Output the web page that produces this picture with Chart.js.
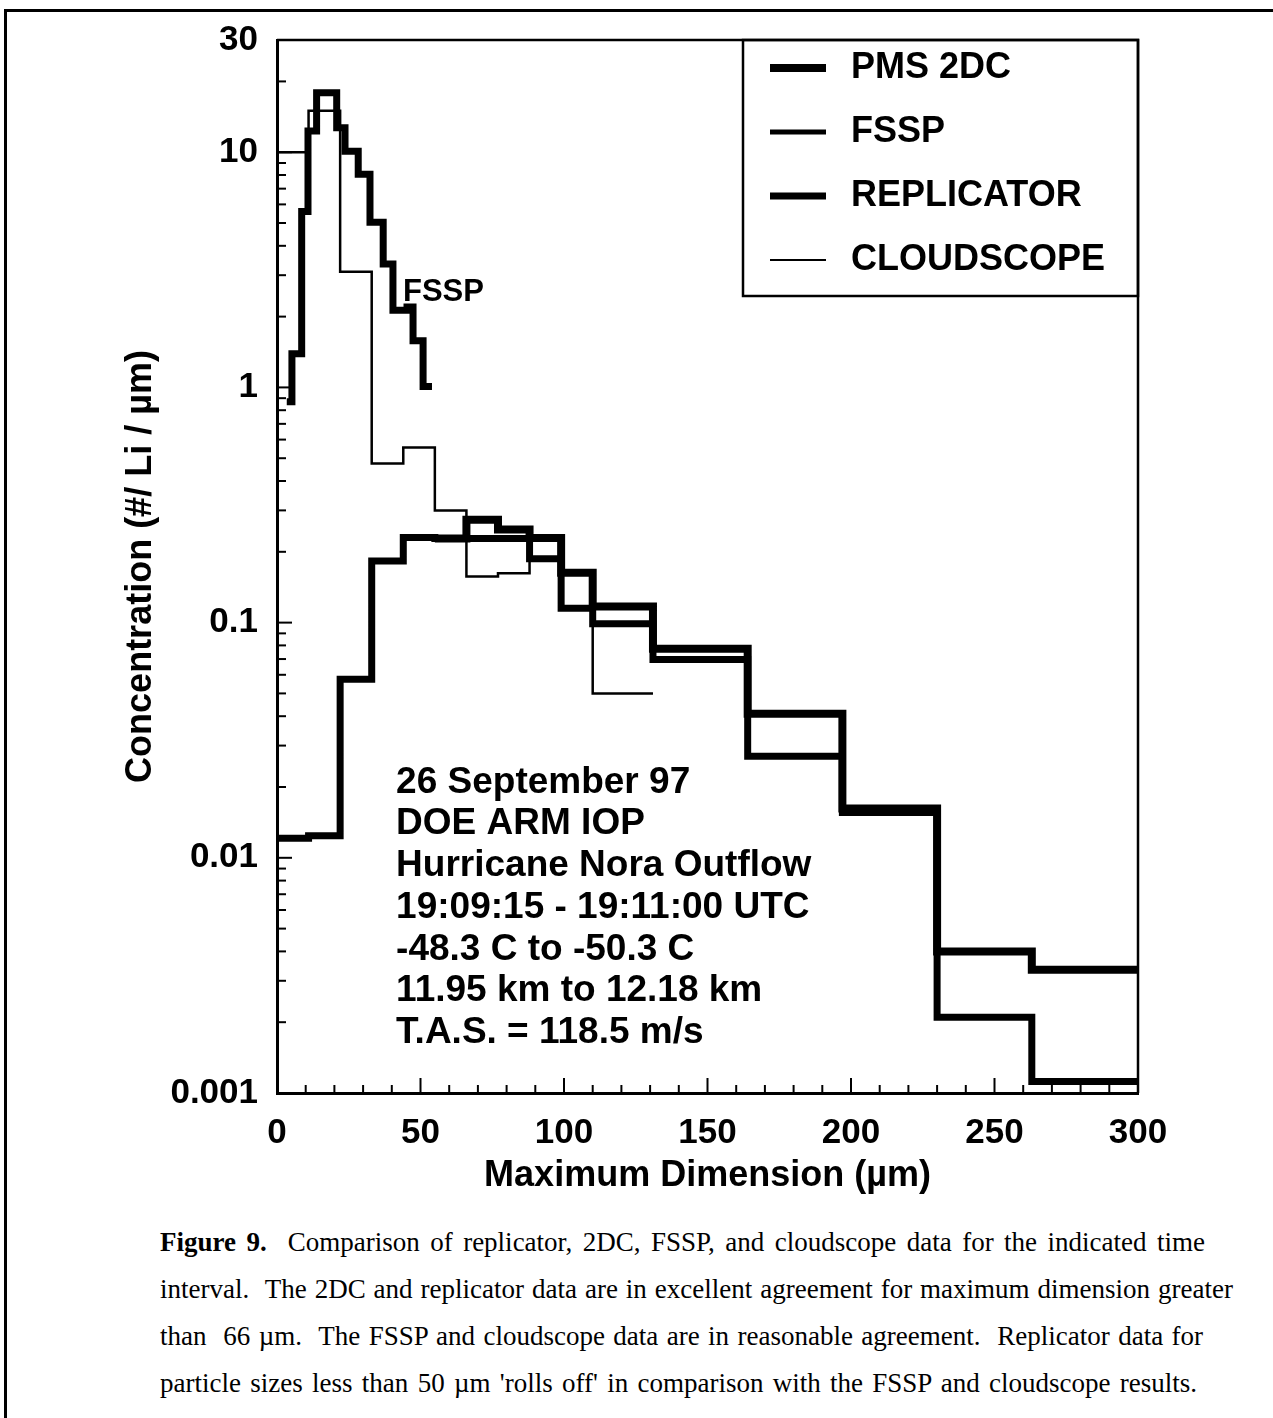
<!DOCTYPE html>
<html>
<head>
<meta charset="utf-8">
<script src="https://cdn.jsdelivr.net/npm/chart.js@4.4.1/dist/chart.umd.min.js"></script>
<style>
  html, body { margin: 0; padding: 0; background: #fff; }
  body { width: 1273px; height: 1418px; position: relative; overflow: hidden; }
  #frame { position: absolute; left: 4px; top: 9px; width: 1300px; height: 1450px;
           border-top: 3px solid #000; border-left: 3px solid #000; }
  #wrap { position: absolute; left: 0; top: 0; width: 1273px; height: 1200px; }
  #caption { position: absolute; left: 160px; top: 1219px; color: #000;
             font-family: "Liberation Serif", "Times New Roman", serif;
             font-size: 27px; line-height: 47px; white-space: nowrap; }
  #caption div { text-align: justify; text-align-last: justify; }
</style>
</head>
<body>
<div id="frame"></div>
<div id="wrap"><canvas id="chartCanvas"></canvas></div>
<div id="caption">
  <div style="width:1045px"><b>Figure 9.</b>&nbsp; Comparison of replicator, 2DC, FSSP, and cloudscope data for the indicated time</div>
  <div style="width:1073px">interval.&nbsp; The 2DC and replicator data are in excellent agreement for maximum dimension greater</div>
  <div style="width:1043px">than&nbsp; 66 &micro;m.&nbsp; The FSSP and cloudscope data are in reasonable agreement.&nbsp; Replicator data for</div>
  <div style="width:1037px">particle sizes less than 50 &micro;m 'rolls off' in comparison with the FSSP and cloudscope results.</div>
</div>
<script>
// bin edges (µm) and concentrations (#/L/µm)
const fsspEdges = [3.4, 5.2, 8.6, 10.8, 13.8, 20.8, 23.7, 28.3, 32.4, 37, 40.4, 45.3, 47.4, 50.9, 54];
const fsspValues = [0.87, 1.39, 5.6, 12.3, 17.9, 12.7, 10.1, 8.06, 5.04, 3.35, 2.13, 2.2, 1.58, 1.01];

const cloudEdges = [0, 11, 22, 33, 44, 55, 66, 77, 88, 99, 110, 131];
const cloudValues = [10, 15, 3.1, 0.475, 0.555, 0.3, 0.157, 0.162, 0.187, 0.115, 0.05];

const replEdges = [0, 11, 22, 33, 44, 55, 66, 77, 88, 99, 110, 131, 164, 197, 230, 263, 300];
const replValues = [0.0121, 0.0124, 0.0575, 0.183, 0.23, 0.228, 0.228, 0.228, 0.187, 0.115,
                    0.099, 0.0697, 0.027, 0.0156, 0.0021, 0.00112];

const pmsEdges = [55, 66, 77, 88, 99, 110, 131, 164, 197, 230, 263, 300];
const pmsValues = [0.228, 0.274, 0.249, 0.229, 0.163, 0.117, 0.0775, 0.041, 0.0162, 0.004, 0.00334];

const yTickValues = [0.001, 0.01, 0.1, 1, 10, 30];
const yTickLabels = ["0.001", "0.01", "0.1", "1", "10", "30"];
const xTickValues = [0, 50, 100, 150, 200, 250, 300];

const infoLines = [
  "26 September 97",
  "DOE ARM IOP",
  "Hurricane Nora Outflow",
  "19:09:15 - 19:11:00 UTC",
  "-48.3 C to -50.3 C",
  "11.95 km to 12.18 km",
  "T.A.S. = 118.5 m/s",
];

const FONT = '"Liberation Sans", Arial, sans-serif';

// histogram edges + values -> points for a stepped line
function steps(edges, values) {
  return edges.map((x, i) => ({ x: x, y: values[Math.min(i, values.length - 1)] }));
}

function stepSet(label, edges, values, width) {
  return {
    label: label,
    data: steps(edges, values),
    borderColor: "#000",
    borderWidth: width,
    stepped: "before",
    pointRadius: 0,
    fill: false,
    borderCapStyle: "butt",
    borderJoinStyle: "miter",
  };
}

// ticks, frame, legend box and the text in the plot
const decorations = {
  id: "decorations",
  afterDraw(chart) {
    const { ctx, chartArea: a, scales } = chart;
    const x = scales.x, y = scales.y;
    const seg = (x1, y1, x2, y2) => { ctx.beginPath(); ctx.moveTo(x1, y1); ctx.lineTo(x2, y2); ctx.stroke(); };
    ctx.save();
    ctx.strokeStyle = "#000";
    ctx.fillStyle = "#000";

    ctx.lineWidth = 2.5;
    ctx.beginPath();
    ctx.moveTo(a.left, a.top);
    ctx.lineTo(a.right, a.top);
    ctx.lineTo(a.right, a.bottom);
    ctx.stroke();

    // inward log ticks on y
    ctx.lineWidth = 2;
    for (let k = -3; k <= 1; k++) {
      for (let m = 1; m <= 9; m++) {
        const v = m * Math.pow(10, k);
        if (v >= 30) continue;
        const py = y.getPixelForValue(v);
        seg(a.left, py, a.left + (m === 1 ? 15 : 9), py);
      }
    }
    // inward ticks on x
    for (let v = 10; v < 300; v += 10) {
      const px = x.getPixelForValue(v);
      seg(px, a.bottom, px, a.bottom - (v % 50 === 0 ? 15 : 8));
    }

    // legend box
    const bw = 395, bh = 256;
    const bl = a.right - bw, bt = a.top;
    ctx.lineWidth = 2.5;
    ctx.strokeRect(bl, bt, bw, bh);
    ctx.font = "bold 36px " + FONT;
    ctx.textBaseline = "middle";
    ctx.textAlign = "left";
    chart.data.datasets.forEach((ds, i) => {
      const ry = bt + 28 + i * 64;
      ctx.lineWidth = ds.legendWidth;
      seg(bl + 27, ry, bl + 83, ry);
      ctx.fillText(ds.label, bl + 108, ry);
    });

    // labels inside the plot
    ctx.textBaseline = "alphabetic";
    ctx.font = "bold 31px " + FONT;
    ctx.fillText("FSSP", x.getPixelForValue(43.9), y.getPixelForValue(2.34));

    ctx.font = "bold 37px " + FONT;
    const ix = x.getPixelForValue(41.5);
    const iy = y.getPixelForValue(0.0189);
    infoLines.forEach((t, i) => ctx.fillText(t, ix, iy + i * 41.7));
    ctx.restore();
  },
};

const datasets = [
  stepSet("PMS 2DC", pmsEdges, pmsValues, 8),
  stepSet("FSSP", fsspEdges, fsspValues, 7),
  stepSet("REPLICATOR", replEdges, replValues, 7),
  stepSet("CLOUDSCOPE", cloudEdges, cloudValues, 2.5),
];
datasets[0].legendWidth = 8;
datasets[1].legendWidth = 5;
datasets[2].legendWidth = 7;
datasets[3].legendWidth = 2;

const ctx = document.getElementById("chartCanvas").getContext("2d");
new Chart(ctx, {
  type: "line",
  data: { datasets: datasets },
  plugins: [decorations],
  options: {
    responsive: true,
    maintainAspectRatio: false,
    animation: false,
    layout: { padding: { left: 0, top: 37, right: 135, bottom: 0 } },
    plugins: { legend: { display: false }, tooltip: { enabled: false } },
    scales: {
      x: {
        type: "linear",
        min: 0,
        max: 300,
        afterBuildTicks: (s) => { s.ticks = xTickValues.map((v) => ({ value: v })); },
        afterFit: (s) => { s.height = 107; },
        ticks: { color: "#000", font: { family: FONT, size: 35, weight: "bold" }, padding: 19, maxRotation: 0 },
        grid: { drawOnChartArea: false, drawTicks: false },
        border: { color: "#000", width: 3 },
        title: {
          display: true,
          text: "Maximum Dimension (\u00b5m)",
          color: "#000",
          font: { family: FONT, size: 36, weight: "bold" },
          padding: { top: 0, bottom: 2 },
        },
      },
      y: {
        type: "logarithmic",
        min: 0.001,
        max: 30,
        afterBuildTicks: (s) => { s.ticks = yTickValues.map((v) => ({ value: v })); },
        afterFit: (s) => { s.width = 277; },
        ticks: {
          color: "#000",
          autoSkip: false,
          font: { family: FONT, size: 35, weight: "bold" },
          padding: 19,
          callback: (v, i) => yTickLabels[i],
        },
        grid: { drawOnChartArea: false, drawTicks: false },
        border: { color: "#000", width: 3 },
        title: {
          display: true,
          text: "Concentration (#/ Li / \u00b5m)",
          color: "#000",
          font: { family: FONT, size: 36, weight: "bold" },
          padding: { top: 119, bottom: 0 },
        },
      },
    },
  },
});
</script>
</body>
</html>
